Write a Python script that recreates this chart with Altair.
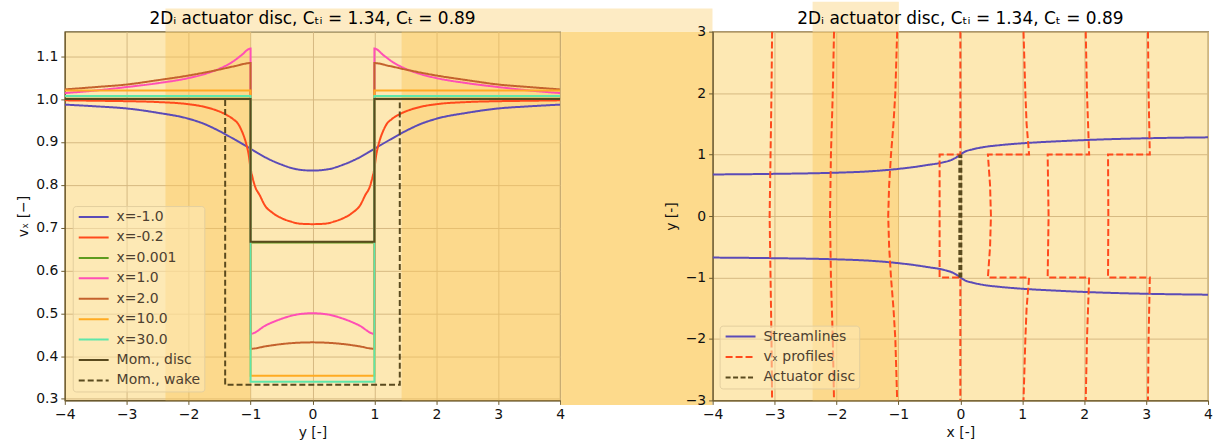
import altair as alt
import pandas as pd

FONT = "DejaVu Sans"
INK = "#111111"
SPINE = "#6b5a2e"
GRID = "#d6b982"
BG = "#fde8b3"
BAND_SEMI = "#fbc75a"
BAND_DARK = "#fdda8c"
BAND_LIGHT = "#fdebc4"
LEGEND_TXT = "#4d4030"

TITLE = "2Dᵢ actuator disc, Cₜᵢ = 1.34, Cₜ = 0.89"

# ---------------- left panel: v_x along y for several x ----------------
series_names = ["x=-1.0", "x=-0.2", "x=0.001", "x=1.0", "x=2.0", "x=10.0", "x=30.0",
                "Mom., disc", "Mom., wake"]
series_colors = ["#5b4bb7", "#ff4a1c", "#5e9b1f", "#ff4fb5", "#c4622d", "#ffab22",
                 "#5ee6aa", "#5a4a1e", "#5a4a1e"]
series_dashes = [[1, 0]] * 8 + [[6, 3]]

y_blue = [-4, -3.5, -3, -2.5, -2, -1.75, -1.5, -1.25, -1, -0.75, -0.5, -0.25, 0,
          0.25, 0.5, 0.75, 1, 1.25, 1.5, 1.75, 2, 2.5, 3, 3.5, 4]
v_blue = [0.987, 0.983, 0.978, 0.968, 0.954, 0.942, 0.925, 0.905, 0.884, 0.863, 0.847, 0.836, 0.833,
          0.836, 0.847, 0.863, 0.884, 0.905, 0.925, 0.942, 0.954, 0.968, 0.978, 0.983, 0.987]

y_red = [-4, -3.5, -3, -2.5, -2, -1.75, -1.6, -1.4, -1.28, -1.2, -1.14, -1.1, -1.06, -1.03, -1.0,
         -0.97, -0.93, -0.85, -0.77, -0.65, -0.5, -0.35, -0.2, 0,
         0.2, 0.35, 0.5, 0.65, 0.77, 0.85, 0.93, 0.97, 1.0,
         1.03, 1.06, 1.1, 1.14, 1.2, 1.28, 1.4, 1.6, 1.75, 2, 2.5, 3, 3.5, 4]
v_red = [0.997, 0.996, 0.995, 0.993, 0.988, 0.982, 0.976, 0.964, 0.953, 0.942, 0.925, 0.91, 0.89, 0.87, 0.838,
         0.818, 0.797, 0.775, 0.752, 0.735, 0.722, 0.714, 0.709, 0.708,
         0.709, 0.714, 0.722, 0.735, 0.752, 0.775, 0.797, 0.818, 0.838,
         0.87, 0.89, 0.91, 0.925, 0.942, 0.953, 0.964, 0.976, 0.982, 0.988, 0.993, 0.995, 0.996, 0.997]

y_green = [-4, -1, -1, 1, 1, 4]
v_green = [1.001, 1.001, 0.665, 0.665, 1.001, 1.001]

y_pink = [-4, -3.5, -3, -2.5, -2, -1.75, -1.5, -1.3, -1.15, -1.0,
          -1.0, -0.75, -0.5, -0.25, 0, 0.25, 0.5, 0.75, 1.0,
          1.0, 1.15, 1.3, 1.5, 1.75, 2, 2.5, 3, 3.5, 4]
v_pink = [1.014, 1.02, 1.028, 1.037, 1.049, 1.058, 1.071, 1.086, 1.102, 1.118,
          0.452, 0.472, 0.487, 0.497, 0.5, 0.497, 0.487, 0.472, 0.452,
          1.118, 1.102, 1.086, 1.071, 1.058, 1.049, 1.037, 1.028, 1.02, 1.014]

y_brown = [-4, -3.5, -3, -2.5, -2, -1.5, -1.25, -1.0,
           -1.0, -0.75, -0.5, -0.25, 0, 0.25, 0.5, 0.75, 1.0,
           1.0, 1.25, 1.5, 2, 2.5, 3, 3.5, 4]
v_brown = [1.0225, 1.028, 1.034, 1.044, 1.055, 1.069, 1.077, 1.084,
           0.417, 0.423, 0.428, 0.431, 0.432, 0.431, 0.428, 0.423, 0.417,
           1.084, 1.077, 1.069, 1.055, 1.044, 1.034, 1.028, 1.0225]

y_orange = [-4, -1, -1, 1, 1, 4]
v_orange = [1.02, 1.02, 0.354, 0.354, 1.02, 1.02]

y_aqua = [-4, -1, -1, 1, 1, 4]
v_aqua = [1.007, 1.007, 0.34, 0.34, 1.007, 1.007]

y_mdisc = [-4, -1, -1, 1, 1, 4]
v_mdisc = [1.0, 1.0, 0.667, 0.667, 1.0, 1.0]

y_mwake = [-4, -1.41, -1.41, 1.41, 1.41, 4]
v_mwake = [1.0, 1.0, 0.333, 0.333, 1.0, 1.0]

left_series = [(y_blue, v_blue), (y_red, v_red), (y_green, v_green), (y_pink, v_pink),
               (y_brown, v_brown), (y_orange, v_orange), (y_aqua, v_aqua),
               (y_mdisc, v_mdisc), (y_mwake, v_mwake)]

# shaded bands (data coordinates)
left_semi_x0 = [-2.374, 1.44]
left_semi_x1 = [-1.0, 4.0]
left_semi_y0 = [0.2965, 0.2965]
left_semi_y1 = [1.1574, 1.1574]
left_dark_x0 = [4.015]
left_dark_x1 = [6.46]
left_dark_y0 = [0.286]
left_dark_y1 = [1.1574]
left_light_x0 = [-2.374]
left_light_x1 = [6.46]
left_light_y0 = [1.1574]
left_light_y1 = [1.2116]

# ---------------- right panel: streamlines and profiles ----------------
stream_x = [-4, -3, -2, -1.5, -1, -0.75, -0.5, -0.35, -0.25, -0.15, -0.07, 0,
            0.08, 0.2, 0.4, 0.62, 1.1, 1.5, 2.23, 3, 4]
stream_upper = [0.676, 0.686, 0.705, 0.725, 0.767, 0.797, 0.835, 0.858, 0.88, 0.91, 0.95, 1.0,
                1.05, 1.085, 1.125, 1.151, 1.19, 1.212, 1.244, 1.265, 1.28]
stream_lower = [-0.676, -0.686, -0.705, -0.725, -0.767, -0.797, -0.835, -0.858, -0.88, -0.91, -0.95, -1.0,
                -1.05, -1.085, -1.125, -1.151, -1.19, -1.212, -1.244, -1.265, -1.28]

prof_m3_y = [3, 2, 1, 0, -1, -2, -3]
prof_m3_x = [-3.04, -3.05, -3.065, -3.08, -3.065, -3.05, -3.04]
prof_m2_y = [3, 2, 1, 0, -1, -2, -3]
prof_m2_x = [-2.04, -2.06, -2.09, -2.105, -2.09, -2.06, -2.04]
prof_m1_y = [3, 2, 1.5, 1, 0.5, 0, -0.5, -1, -1.5, -2, -3]
prof_m1_x = [-1.02, -1.05, -1.08, -1.12, -1.15, -1.165, -1.15, -1.12, -1.08, -1.05, -1.02]
prof_0_y = [3, 1, 1, -1, -1, -3]
prof_0_x = [0.0, 0.0, -0.335, -0.335, 0.0, 0.0]
prof_1_y = [3, 2, 1.5, 1, 1, 0.5, 0, -0.5, -1, -1, -1.5, -2, -3]
prof_1_x = [1.02, 1.05, 1.07, 1.11, 0.445, 0.48, 0.494, 0.48, 0.445, 1.11, 1.07, 1.05, 1.02]
prof_2_y = [3, 2, 1, 1, 0, -1, -1, -2, -3]
prof_2_x = [2.025, 2.045, 2.08, 1.41, 1.425, 1.41, 2.08, 2.045, 2.025]
prof_3_y = [3, 2, 1, 1, 0, -1, -1, -2, -3]
prof_3_x = [3.03, 3.04, 3.06, 2.385, 2.39, 2.385, 3.06, 3.04, 3.03]

disc_y = [-1, 1]
disc_x = [0, 0]

right_names = ["Streamlines", "vₓ profiles", "Actuator disc"]
right_colors = ["#5b4bb7", "#ff4a1c", "#5a4a1e"]
right_dashes = [[1, 0], [7, 3], [5, 2.5]]

right_semi_x0 = [-2.386]
right_semi_x1 = [-0.993]
right_semi_y0 = [-3.0]
right_semi_y1 = [3.0]
right_light_x0 = [-2.386]
right_light_x1 = [-0.993]
right_light_y0 = [3.0]
right_light_y1 = [3.486]

# ---------------- build tables ----------------
rows = []
for name, (ys, vs) in zip(series_names, left_series):
    for i, (a, b) in enumerate(zip(ys, vs)):
        rows.append({"series": name, "y": a, "v": b, "order": i})
left_df = pd.DataFrame(rows)


def line_rows(kind, lid, xs, ys):
    return [{"kind": kind, "lid": lid, "x": a, "y": b, "order": i}
            for i, (a, b) in enumerate(zip(xs, ys))]


stream_df = pd.DataFrame(line_rows("Streamlines", "s_up", stream_x, stream_upper)
                         + line_rows("Streamlines", "s_lo", stream_x, stream_lower))
prof_rows = []
for lid, (xs, ys) in {"p-3": (prof_m3_x, prof_m3_y), "p-2": (prof_m2_x, prof_m2_y),
                      "p-1": (prof_m1_x, prof_m1_y), "p0": (prof_0_x, prof_0_y),
                      "p1": (prof_1_x, prof_1_y), "p2": (prof_2_x, prof_2_y),
                      "p3": (prof_3_x, prof_3_y)}.items():
    prof_rows += line_rows("vₓ profiles", lid, xs, ys)
prof_df = pd.DataFrame(prof_rows)
disc_df = pd.DataFrame(line_rows("Actuator disc", "disc", disc_x, disc_y))


def rect_df(x0, x1, y0, y1):
    return pd.DataFrame({"x0": x0, "x1": x1, "y0": y0, "y1": y1})


PW, PH = 497, 370

# ---------------- axes and scales ----------------
lx = alt.Scale(domain=[-4, 4], nice=False, zero=False)
ly = alt.Scale(domain=[0.2965, 1.1574], nice=False, zero=False)
rx = alt.Scale(domain=[-4, 4], nice=False, zero=False)
ry = alt.Scale(domain=[-3, 3], nice=False, zero=False)

lx_axis = alt.Axis(values=list(range(-4, 5)), format="d", title="y [-]", titlePadding=4)
ly_axis = alt.Axis(values=[0.3, 0.4, 0.5, 0.6, 0.7, 0.8, 0.9, 1.0, 1.1], format=".1f",
                   title="vₓ [−]", titlePadding=5)
rx_axis = alt.Axis(values=list(range(-4, 5)), format="d", title="x [-]", titlePadding=4)
ry_axis = alt.Axis(values=list(range(-3, 4)), format="d", title="y [-]", titlePadding=7)


def rects(df, xs, ys, xa, ya, color, opacity):
    return alt.Chart(df).mark_rect(color=color, opacity=opacity, clip=False).encode(
        x=alt.X("x0:Q", scale=xs, axis=xa),
        x2="x1:Q",
        y=alt.Y("y0:Q", scale=ys, axis=ya),
        y2="y1:Q",
    )


legend_common = dict(
    title=None, orient="none", symbolType="M-3,0H3", symbolSize=100,
    symbolStrokeWidth=2, symbolOffset=10, labelOffset=16, padding=4, rowPadding=6.5,
    labelFont=FONT, labelFontSize=14, labelColor=LEGEND_TXT, labelLimit=300,
    fillColor="rgba(253,233,182,0.55)", strokeColor="#e3cf9f", cornerRadius=3,
)
left_legend = alt.Legend(legendX=8, legendY=175, **legend_common)
right_legend = alt.Legend(legendX=7, legendY=295, **legend_common)

left_lines = alt.Chart(left_df).mark_line(strokeWidth=2, clip=True, interpolate="monotone").encode(
    x=alt.X("y:Q", scale=lx, axis=lx_axis),
    y=alt.Y("v:Q", scale=ly, axis=ly_axis),
    color=alt.Color("series:N", scale=alt.Scale(domain=series_names, range=series_colors),
                    legend=left_legend),
    strokeDash=alt.StrokeDash("series:N", scale=alt.Scale(domain=series_names, range=series_dashes),
                              legend=left_legend),
    order=alt.Order("order:Q"),
)

title_df = pd.DataFrame({"t": [TITLE]})


def title_mark():
    return alt.Chart(title_df).mark_text(
        font=FONT, fontSize=17, color="#000000", align="center", baseline="alphabetic"
    ).encode(text="t:N", x=alt.value(PW / 2), y=alt.value(-8))


left = alt.layer(
    rects(rect_df(left_semi_x0, left_semi_x1, left_semi_y0, left_semi_y1), lx, ly, lx_axis, ly_axis, BAND_SEMI, 0.44),
    rects(rect_df(left_dark_x0, left_dark_x1, left_dark_y0, left_dark_y1), lx, ly, lx_axis, ly_axis, BAND_DARK, 1),
    rects(rect_df(left_light_x0, left_light_x1, left_light_y0, left_light_y1), lx, ly, lx_axis, ly_axis, BAND_LIGHT, 1),
    left_lines,
    title_mark(),
).properties(width=PW, height=PH)


def right_layer(df, width, interp):
    return alt.Chart(df).mark_line(clip=True, strokeWidth=width, interpolate=interp).encode(
        x=alt.X("x:Q", scale=rx, axis=rx_axis),
        y=alt.Y("y:Q", scale=ry, axis=ry_axis),
        color=alt.Color("kind:N", scale=alt.Scale(domain=right_names, range=right_colors),
                        legend=right_legend),
        strokeDash=alt.StrokeDash("kind:N", scale=alt.Scale(domain=right_names, range=right_dashes),
                                  legend=right_legend),
        detail="lid:N",
        order=alt.Order("order:Q"),
    )


right = alt.layer(
    rects(rect_df(right_semi_x0, right_semi_x1, right_semi_y0, right_semi_y1), rx, ry, rx_axis, ry_axis, BAND_SEMI, 0.44),
    rects(rect_df(right_light_x0, right_light_x1, right_light_y0, right_light_y1), rx, ry, rx_axis, ry_axis, BAND_LIGHT, 1),
    right_layer(stream_df, 2, "monotone"),
    right_layer(prof_df, 2, "linear"),
    right_layer(disc_df, 4, "linear"),
    title_mark(),
).properties(width=PW, height=PH)

chart = alt.hconcat(left, right, spacing=153, bounds="flush").resolve_scale(
    x="independent", y="independent", color="independent", strokeDash="independent",
).resolve_legend(
    color="independent", strokeDash="independent",
).properties(
    padding={"left": 16, "top": 0, "right": 2, "bottom": 2}
).configure(
    font=FONT,
).configure_view(
    fill=BG, stroke=SPINE, strokeWidth=1.2,
).configure_axis(
    labelFont=FONT, labelFontSize=14, labelColor=INK, labelFlush=False,
    titleFont=FONT, titleFontSize=14, titleFontWeight="normal", titleColor=INK,
    tickColor=SPINE, tickSize=4, tickWidth=1, labelPadding=3,
    domainColor=SPINE, domainWidth=1.2, gridColor=GRID, gridWidth=1,
)

chart.save("out.html", embed_options={"renderer": "svg", "actions": False})
